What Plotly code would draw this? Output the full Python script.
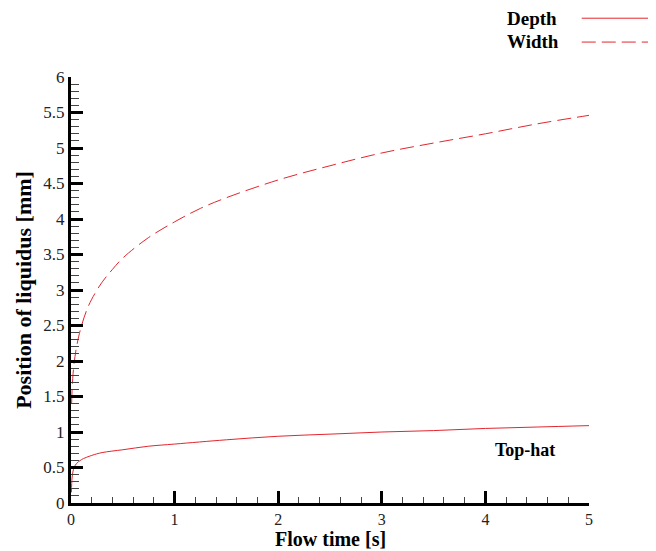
import plotly.graph_objects as go

# Flow time [s]
time_depth = [0.004, 0.01, 0.02, 0.03, 0.05, 0.1, 0.2, 0.3, 0.5, 0.75, 1.0, 1.5, 2.0, 2.5, 3.0, 3.5, 4.0, 4.5, 5.0]
depth = [0.15, 0.35, 0.45, 0.50, 0.55, 0.61, 0.67, 0.71, 0.75, 0.80, 0.83, 0.89, 0.94, 0.97, 1.00, 1.02, 1.05, 1.07, 1.09]

time_width = [0.006, 0.01, 0.02, 0.03, 0.05, 0.075, 0.1, 0.15, 0.2, 0.3, 0.4, 0.5, 0.75, 1.0, 1.25, 1.5, 2.0, 2.5, 3.0, 3.5, 4.0, 4.5, 5.0]
width = [1.40, 1.58, 1.82, 1.97, 2.17, 2.35, 2.49, 2.71, 2.87, 3.11, 3.29, 3.45, 3.74, 3.96, 4.15, 4.30, 4.55, 4.75, 4.93, 5.07, 5.20, 5.34, 5.46]

x_ticks = [0, 1, 2, 3, 4, 5]
y_ticks = [0, 0.5, 1, 1.5, 2, 2.5, 3, 3.5, 4, 4.5, 5, 5.5, 6]

RED = "#e3262e"
FONT = "Liberation Serif"

fig = go.Figure()
fig.add_trace(go.Scatter(x=time_depth, y=depth, mode="lines", name="Depth",
                         line=dict(color=RED, width=1, shape="spline")))
fig.add_trace(go.Scatter(x=time_width, y=width, mode="lines", name="Width",
                         line=dict(color=RED, width=1, dash="14px,6px", shape="spline")))

axis_common = dict(
    showline=True, linecolor="black", linewidth=3, mirror=False,
    showgrid=False, zeroline=False, automargin=False,
    ticks="inside", ticklen=12, tickwidth=3, tickcolor="black",
    title_font=dict(family=FONT, size=22, color="black"),
)

fig.update_xaxes(range=[0, 5], tickvals=x_ticks, ticktext=[str(v) for v in x_ticks],
                 tickfont=dict(family=FONT, size=16, color="#222"),
                 minor=dict(ticks="inside", ticklen=6, tickwidth=1.2, tickcolor="#444", dtick=0.2),
                 **axis_common)
fig.update_yaxes(range=[0, 6], tickvals=y_ticks, ticktext=[f"{v:g}" for v in y_ticks],
                 tickfont=dict(family=FONT, size=17, color="#222"),
                 title_text="<b>Position of liquidus [mm]</b>", title_standoff=6,
                 minor=dict(ticks="inside", ticklen=8, tickwidth=1.2, tickcolor="#444", dtick=0.1),
                 **axis_common)

# x-axis title placed as annotation below the tick labels
fig.add_annotation(xref="paper", yref="paper", x=0.5, y=-0.085, text="<b>Flow time [s]</b>",
                   showarrow=False, xanchor="center", yanchor="middle",
                   font=dict(family=FONT, size=20, color="black"))

# manual legend (text left, line sample right)
fig.add_annotation(xref="paper", yref="paper", x=0.838, y=1.137, text="<b>Depth</b>",
                   showarrow=False, xanchor="left", yanchor="middle",
                   font=dict(family=FONT, size=19, color="black"))
fig.add_annotation(xref="paper", yref="paper", x=0.838, y=1.084, text="<b>Width</b>",
                   showarrow=False, xanchor="left", yanchor="middle",
                   font=dict(family=FONT, size=19, color="black"))
fig.add_shape(type="line", xref="paper", yref="paper", x0=0.986, x1=1.14, y0=1.138, y1=1.138,
              line=dict(color=RED, width=1))
fig.add_shape(type="line", xref="paper", yref="paper", x0=0.986, x1=1.14, y0=1.082, y1=1.082,
              line=dict(color=RED, width=1, dash="14px,6px"))

fig.add_annotation(xref="paper", yref="paper", x=0.876, y=0.124, text="<b>Top-hat</b>",
                   showarrow=False, xanchor="center", yanchor="middle",
                   font=dict(family=FONT, size=18, color="black"))

fig.update_layout(
    width=648, height=543,
    margin=dict(l=63, r=67, t=69, b=48),
    paper_bgcolor="white", plot_bgcolor="white",
    showlegend=False,
)

fig.write_html("out.html")
